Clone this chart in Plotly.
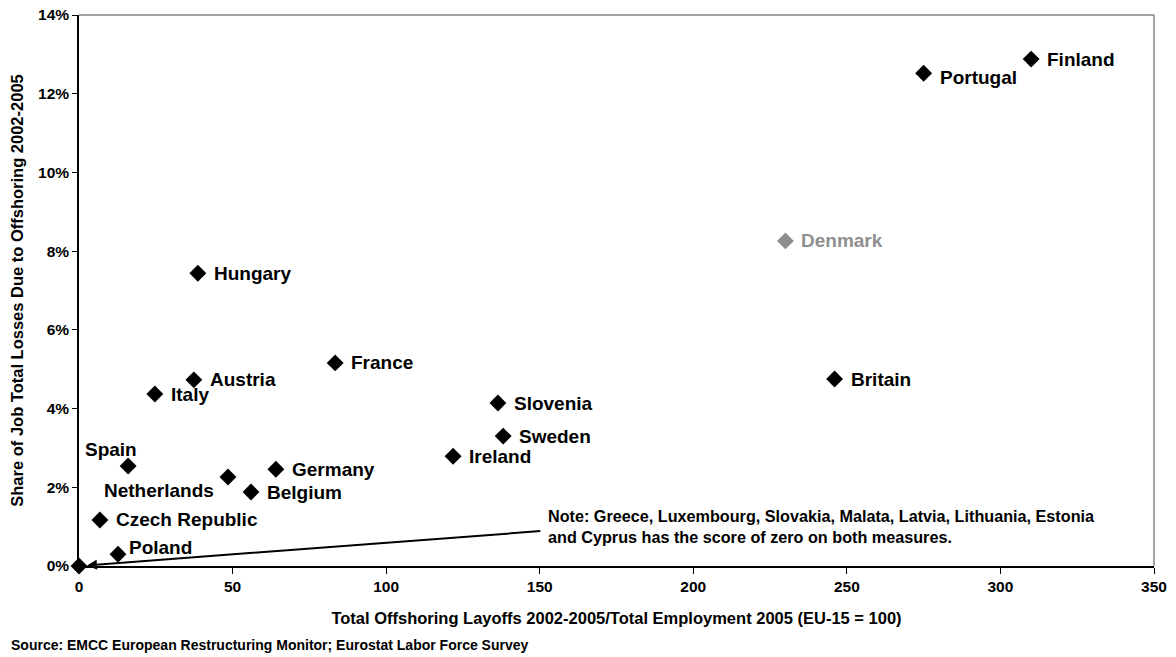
import plotly.graph_objects as go

countries = ["Finland", "Portugal", "Denmark", "Britain", "Hungary", "France",
             "Austria", "Italy", "Slovenia", "Sweden", "Ireland", "Spain",
             "Netherlands", "Germany", "Belgium", "Czech Republic", "Poland", "Zero group"]
layoffs_index = [310, 275, 230, 246, 38.7, 83.4, 37.4, 24.7, 136.4, 138.1, 121.8,
                 16.0, 48.5, 64.1, 56.0, 6.8, 12.7, 0]
job_loss_share = [0.1288, 0.1252, 0.0826, 0.0475, 0.0744, 0.0516, 0.0473, 0.0437,
                  0.0414, 0.0330, 0.0279, 0.0254, 0.0226, 0.0246, 0.0188, 0.0117, 0.0030, 0.0]

x_ticks = [0, 50, 100, 150, 200, 250, 300, 350]
y_ticks = [0, 0.02, 0.04, 0.06, 0.08, 0.10, 0.12, 0.14]

note_text = ("Note: Greece, Luxembourg, Slovakia, Malata, Latvia, Lithuania, Estonia<br>"
             "and Cyprus has the score of zero on both measures.")
note_anchor = (150.7, 0.0089)
source_text = "Source: EMCC European Restructuring Monitor; Eurostat Labor Force Survey"
x_title = "Total Offshoring Layoffs 2002-2005/Total Employment 2005 (EU-15 = 100)"
y_title = "Share of Job Total Losses Due to Offshoring 2002-2005"

FONT = "Liberation Sans, Arial, sans-serif"
highlight = {"Denmark": "#8f8f8f"}
# label placement styles: (xanchor, xshift, yshift)
label_style = {
    "Portugal": ("left", 14, -4),
    "Spain": ("center", -17, 17),
    "Netherlands": ("right", -12, -13),
    "Poland": ("left", 9, 7),
}

colors = [highlight.get(c, "#000000") for c in countries]

fig = go.Figure()
fig.add_trace(go.Scatter(
    x=layoffs_index, y=job_loss_share, mode="markers",
    marker=dict(symbol="diamond", size=13, color=colors),
    cliponaxis=False, hoverinfo="text", text=countries, showlegend=False))

annotations = []
for c, xv, yv, col in zip(countries, layoffs_index, job_loss_share, colors):
    if c == "Zero group":
        continue
    xa, xs, ys = label_style.get(c, ("left", 14, 0))
    annotations.append(dict(x=xv, y=yv, xref="x", yref="y", text=c, showarrow=False,
                            xanchor=xa, yanchor="middle", xshift=xs, yshift=ys,
                            font=dict(family=FONT, size=19, color=col, weight="bold")))

# note with arrow to zero point
annotations.append(dict(x=0, y=0, xref="x", yref="y", ax=note_anchor[0], ay=note_anchor[1],
                        axref="x", ayref="y", text="", showarrow=True, arrowhead=2,
                        arrowsize=1, arrowwidth=2, arrowcolor="#000000", standoff=8))
annotations.append(dict(x=note_anchor[0], y=note_anchor[1], xref="x", yref="y",
                        text=note_text, showarrow=False, xanchor="left", yanchor="middle",
                        xshift=4, yshift=4, align="left",
                        font=dict(family=FONT, size=16.2, color="#000000", weight="bold")))
annotations.append(dict(x=-0.065, y=-0.1434, xref="paper", yref="paper", text=source_text,
                        showarrow=False, xanchor="left", yanchor="middle",
                        font=dict(family=FONT, size=14, color="#000000", weight="bold")))

fig.update_layout(
    width=1176, height=657,
    margin=dict(l=79, r=22, t=15, b=91, autoexpand=False),
    paper_bgcolor="white", plot_bgcolor="white",
    annotations=annotations,
    shapes=[
        dict(type="line", xref="paper", yref="paper", x0=0, x1=1, y0=1, y1=1,
             line=dict(color="#868686", width=1.5)),
        dict(type="line", xref="paper", yref="paper", x0=1, x1=1, y0=0, y1=1,
             line=dict(color="#868686", width=1.5)),
    ],
    xaxis=dict(range=[0, 350], tickvals=x_ticks, ticktext=[str(v) for v in x_ticks],
               automargin=False,
               showgrid=False, zeroline=False, showline=True, linecolor="#000000", linewidth=1.5,
               ticks="outside", ticklen=6, tickcolor="#000000",
               tickfont=dict(family=FONT, size=15.5, color="#000000", weight="bold"),
               title=dict(text=x_title, standoff=18,
                          font=dict(family=FONT, size=16.5, color="#000000", weight="bold"))),
    yaxis=dict(range=[0, 0.14], tickvals=y_ticks, ticktext=[f"{int(round(v*100))}%" for v in y_ticks],
               automargin=False,
               showgrid=False, zeroline=False, showline=True, linecolor="#000000", linewidth=1.5,
               ticks="outside", ticklen=5, tickcolor="#000000",
               tickfont=dict(family=FONT, size=15.5, color="#000000", weight="bold"),
               title=dict(text=y_title, standoff=10,
                          font=dict(family=FONT, size=16.5, color="#000000", weight="bold"))),
)

fig.write_html("out.html", config={"displayModeBar": False},
               post_script="document.body.style.margin='0';")
